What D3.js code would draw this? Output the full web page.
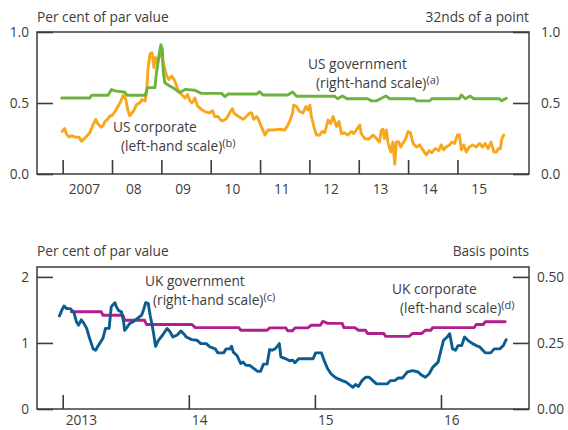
<!DOCTYPE html>
<html>
<head>
<meta charset="utf-8">
<script src="https://cdn.jsdelivr.net/npm/d3@7"></script>
<style>
  html, body { margin: 0; padding: 0; background: #fff; }
  svg { display: block; }
  text { font-family: "Open Sans", "Noto Sans", sans-serif; fill: #3c3c3c; }
</style>
</head>
<body>
<svg id="chart" width="568" height="430"></svg>
<script>
// ---- Top panel: US bid-ask spreads (dates as decimal years) ----
const usCorpYears = [2006.99, 2007.04, 2007.08, 2007.13, 2007.18, 2007.25, 2007.33, 2007.38, 2007.47, 2007.55,
  2007.62, 2007.67, 2007.72, 2007.78, 2007.82, 2007.86, 2007.91, 2007.96, 2008.00, 2008.06,
  2008.11, 2008.16, 2008.23, 2008.28, 2008.32, 2008.36, 2008.43, 2008.50, 2008.56, 2008.61,
  2008.67, 2008.70, 2008.73, 2008.77, 2008.81, 2008.85, 2008.88, 2008.92, 2008.95, 2008.99,
  2009.02, 2009.06, 2009.11, 2009.15, 2009.21, 2009.26, 2009.31, 2009.35, 2009.41, 2009.48,
  2009.53, 2009.58, 2009.62, 2009.68, 2009.73, 2009.81, 2009.88, 2009.97, 2010.04, 2010.08,
  2010.15, 2010.20, 2010.25, 2010.32, 2010.40, 2010.44, 2010.47, 2010.52, 2010.59, 2010.66,
  2010.72, 2010.79, 2010.83, 2010.87, 2010.93, 2010.96, 2011.03, 2011.10, 2011.16, 2011.26,
  2011.40, 2011.50, 2011.55, 2011.60, 2011.66, 2011.68, 2011.74, 2011.80, 2011.87, 2011.93,
  2011.97, 2012.01, 2012.04, 2012.09, 2012.14, 2012.21, 2012.26, 2012.31, 2012.38, 2012.43,
  2012.48, 2012.55, 2012.60, 2012.65, 2012.71, 2012.78, 2012.85, 2012.90, 2012.97, 2013.02,
  2013.05, 2013.12, 2013.20, 2013.29, 2013.36, 2013.42, 2013.46, 2013.49, 2013.52, 2013.56,
  2013.59, 2013.65, 2013.69, 2013.73, 2013.76, 2013.81, 2013.85, 2013.89, 2013.94, 2014.00,
  2014.05, 2014.10, 2014.17, 2014.23, 2014.30, 2014.37, 2014.43, 2014.48, 2014.55, 2014.62,
  2014.67, 2014.72, 2014.77, 2014.84, 2014.89, 2014.94, 2015.00, 2015.04, 2015.08, 2015.13,
  2015.18, 2015.24, 2015.31, 2015.38, 2015.45, 2015.51, 2015.56, 2015.62, 2015.68, 2015.74,
  2015.79, 2015.83, 2015.87, 2015.90, 2015.94];
const usCorpValues = [0.30, 0.32, 0.28, 0.26, 0.27, 0.26, 0.26, 0.23, 0.26, 0.29,
  0.35, 0.385, 0.35, 0.33, 0.34, 0.37, 0.385, 0.41, 0.41, 0.44,
  0.47, 0.50, 0.555, 0.525, 0.45, 0.41, 0.44, 0.49, 0.50, 0.525,
  0.515, 0.57, 0.74, 0.845, 0.855, 0.75, 0.82, 0.785, 0.82, 0.865,
  0.81, 0.75, 0.69, 0.665, 0.69, 0.665, 0.62, 0.585, 0.56, 0.535,
  0.56, 0.515, 0.50, 0.535, 0.48, 0.455, 0.44, 0.43, 0.445, 0.405,
  0.405, 0.38, 0.375, 0.39, 0.44, 0.46, 0.43, 0.415, 0.40, 0.385,
  0.405, 0.43, 0.43, 0.385, 0.405, 0.39, 0.33, 0.275, 0.31, 0.31,
  0.315, 0.31, 0.335, 0.37, 0.43, 0.485, 0.475, 0.44, 0.43, 0.475,
  0.45, 0.485, 0.405, 0.335, 0.275, 0.275, 0.30, 0.29, 0.38, 0.355,
  0.405, 0.335, 0.37, 0.285, 0.29, 0.275, 0.30, 0.285, 0.32, 0.345,
  0.285, 0.25, 0.245, 0.275, 0.25, 0.225, 0.31, 0.315, 0.25, 0.31,
  0.225, 0.155, 0.225, 0.07, 0.225, 0.225, 0.19, 0.215, 0.24, 0.30,
  0.29, 0.215, 0.19, 0.205, 0.17, 0.135, 0.165, 0.15, 0.18, 0.165,
  0.205, 0.17, 0.19, 0.205, 0.225, 0.215, 0.275, 0.275, 0.17, 0.205,
  0.155, 0.19, 0.205, 0.19, 0.215, 0.19, 0.215, 0.18, 0.225, 0.155,
  0.155, 0.18, 0.18, 0.25, 0.275];

const usGovYears = [2006.98, 2007.55, 2007.59, 2007.92, 2007.99, 2008.06, 2008.26, 2008.30, 2008.67, 2008.72,
  2008.87, 2008.90, 2008.95, 2008.99, 2009.02, 2009.04, 2009.07, 2009.17, 2009.27, 2009.37,
  2009.48, 2009.68, 2009.81, 2010.22, 2010.29, 2010.35, 2010.93, 2010.99, 2011.06, 2011.56,
  2011.66, 2011.74, 2012.51, 2012.57, 2012.67, 2012.76, 2013.18, 2013.26, 2013.36, 2013.44,
  2013.55, 2013.63, 2014.13, 2014.17, 2014.44, 2014.48, 2015.04, 2015.08, 2015.16, 2015.26,
  2015.33, 2015.85, 2015.89, 2015.99];
const usGovValues = [0.535, 0.535, 0.555, 0.555, 0.595, 0.585, 0.577, 0.555, 0.555, 0.608,
  0.608, 0.71, 0.83, 0.91, 0.878, 0.713, 0.643, 0.62, 0.60, 0.573,
  0.596, 0.59, 0.568, 0.568, 0.545, 0.563, 0.563, 0.58, 0.556, 0.556,
  0.578, 0.548, 0.548, 0.53, 0.549, 0.53, 0.53, 0.515, 0.515, 0.53,
  0.549, 0.53, 0.53, 0.515, 0.515, 0.53, 0.53, 0.556, 0.53, 0.549,
  0.53, 0.53, 0.515, 0.533];

const topTickYears = [2007, 2008, 2009, 2010, 2011, 2012, 2013, 2014, 2015];
const topTickLabels = ["2007", "08", "09", "10", "11", "12", "13", "14", "15"];
const topLeftTicks = [0, 0.5, 1];
const topRightTicks = [0, 0.5, 1];

// ---- Bottom panel: UK bid-ask spreads ----
const ukCorpYears = [2012.974, 2012.994, 2013.011, 2013.032, 2013.060, 2013.089, 2013.109, 2013.126, 2013.147, 2013.167,
  2013.190, 2013.213, 2013.241, 2013.261, 2013.282, 2013.319, 2013.339, 2013.368, 2013.385, 2013.414,
  2013.425, 2013.443, 2013.466, 2013.483, 2013.491, 2013.511, 2013.529, 2013.557, 2013.592, 2013.626,
  2013.644, 2013.658, 2013.678, 2013.693, 2013.707, 2013.721, 2013.736, 2013.759, 2013.793, 2013.828,
  2013.851, 2013.874, 2013.908, 2013.937, 2013.960, 2013.980, 2014.023, 2014.066, 2014.095, 2014.138,
  2014.167, 2014.210, 2014.230, 2014.276, 2014.296, 2014.325, 2014.339, 2014.353, 2014.382, 2014.411,
  2014.431, 2014.454, 2014.483, 2014.511, 2014.546, 2014.569, 2014.592, 2014.621, 2014.641, 2014.661,
  2014.684, 2014.707, 2014.718, 2014.730, 2014.770, 2014.799, 2014.822, 2014.842, 2014.871, 2014.914,
  2014.986, 2015.006, 2015.052, 2015.072, 2015.101, 2015.129, 2015.167, 2015.216, 2015.244, 2015.273,
  2015.302, 2015.322, 2015.345, 2015.374, 2015.402, 2015.431, 2015.460, 2015.489, 2015.575, 2015.598,
  2015.632, 2015.661, 2015.695, 2015.733, 2015.776, 2015.819, 2015.848, 2015.876, 2015.905, 2015.934,
  2015.977, 2016.000, 2016.020, 2016.049, 2016.069, 2016.092, 2016.115, 2016.135, 2016.164, 2016.187,
  2016.213, 2016.250, 2016.279, 2016.307, 2016.351, 2016.394, 2016.422, 2016.466, 2016.494, 2016.517];
const ukCorpValues = [1.41, 1.50, 1.56, 1.52, 1.52, 1.46, 1.32, 1.27, 1.35, 1.30,
  1.22, 1.07, 0.91, 0.89, 0.96, 1.07, 1.22, 1.22, 1.55, 1.61,
  1.55, 1.49, 1.47, 1.32, 1.19, 1.24, 1.29, 1.32, 1.37, 1.42,
  1.52, 1.61, 1.60, 1.42, 1.29, 1.14, 0.95, 1.04, 1.12, 1.22,
  1.17, 1.09, 1.12, 1.18, 1.14, 1.09, 1.05, 1.04, 0.99, 0.99,
  0.94, 0.91, 0.85, 0.85, 0.91, 0.91, 0.95, 0.86, 0.81, 0.69,
  0.71, 0.66, 0.66, 0.62, 0.57, 0.57, 0.68, 0.68, 0.90, 0.89,
  0.91, 0.96, 0.99, 0.79, 0.76, 0.73, 0.74, 0.70, 0.76, 0.76,
  0.76, 0.85, 0.85, 0.74, 0.61, 0.53, 0.47, 0.43, 0.41, 0.37,
  0.33, 0.37, 0.34, 0.43, 0.48, 0.48, 0.43, 0.38, 0.38, 0.43,
  0.43, 0.47, 0.47, 0.56, 0.58, 0.56, 0.51, 0.48, 0.53, 0.63,
  0.71, 0.89, 1.04, 1.09, 1.14, 0.91, 0.89, 0.96, 0.96, 1.09,
  1.04, 0.99, 0.96, 0.94, 0.85, 0.85, 0.91, 0.91, 0.96, 1.05];

const ukGovYears = [2013.069, 2013.305, 2013.319, 2013.477, 2013.491, 2013.649, 2013.664, 2014.023, 2014.052, 2014.397,
  2014.411, 2014.621, 2014.641, 2014.770, 2014.784, 2014.822, 2014.842, 2014.943, 2014.971, 2015.043,
  2015.063, 2015.101, 2015.216, 2015.230, 2015.316, 2015.345, 2015.402, 2015.417, 2015.546, 2015.560,
  2015.747, 2015.776, 2015.848, 2015.876, 2015.920, 2015.934, 2016.264, 2016.279, 2016.336, 2016.351,
  2016.509];
const ukGovValues = [0.368, 0.368, 0.355, 0.355, 0.336, 0.336, 0.320, 0.320, 0.308, 0.308,
  0.298, 0.298, 0.307, 0.307, 0.296, 0.296, 0.307, 0.307, 0.317, 0.317,
  0.332, 0.324, 0.324, 0.308, 0.308, 0.298, 0.298, 0.286, 0.286, 0.275,
  0.275, 0.286, 0.286, 0.298, 0.298, 0.308, 0.308, 0.320, 0.320, 0.330,
  0.330];

const bottomTickYears = [2013, 2014, 2015, 2016];
const bottomTickLabels = ["2013", "14", "15", "16"];
const bottomLeftTicks = [0, 1, 2];
const bottomRightTicks = [0, 0.25, 0.5];

// ---- Colours and type ----
const orange = "#f8a61c";
const green = "#6cb33e";
const blue = "#0c5c91";
const magenta = "#b01f8e";
const axisColour = "#3c3c3c";
const fontSize = 13.7;

const svg = d3.select("#chart");
const zip = (xs, ys) => xs.map((x, i) => [x, ys[i]]);

function panel(cfg) {
  const { left, right, top, bottom } = cfg.frame;
  const g = svg.append("g");

  const x = d3.scaleLinear().domain(cfg.xDomain).range([left, right]);
  const yL = d3.scaleLinear().domain(cfg.yLeftDomain).range([bottom, top]);
  const yR = d3.scaleLinear().domain(cfg.yRightDomain).range([bottom, top]);

  // year tick marks, pointing into the plot
  g.append("g")
    .attr("transform", `translate(0,${bottom})`)
    .call(d3.axisBottom(x).tickValues(cfg.tickYears).tickSize(-14).tickFormat(""))
    .call(a => a.select(".domain").remove())
    .call(a => a.selectAll("line").attr("stroke", axisColour).attr("stroke-width", 1.6));

  // year labels
  const lab = g.append("g")
    .attr("transform", `translate(0,${bottom})`)
    .call(d3.axisBottom(x)
      .tickValues(cfg.tickYears.map(v => v + cfg.labelShift))
      .tickSize(0).tickPadding(cfg.labelPad)
      .tickFormat((d, i) => cfg.tickLabels[i]));
  lab.select(".domain").remove();
  lab.selectAll("text")
    .attr("font-size", fontSize).attr("fill", axisColour)
    .attr("text-anchor", cfg.labelAnchor)
    .attr("dx", cfg.labelDx);

  // left and right value axes (inward ticks)
  const la = g.append("g").attr("transform", `translate(${left},0)`)
    .call(d3.axisLeft(yL).tickValues(cfg.leftTicks).tickSize(-16).tickPadding(cfg.leftPad)
      .tickFormat(cfg.leftFormat));
  const ra = g.append("g").attr("transform", `translate(${right},0)`)
    .call(d3.axisRight(yR).tickValues(cfg.rightTicks).tickSize(-16).tickPadding(cfg.rightPad)
      .tickFormat(cfg.rightFormat));
  [la, ra].forEach(a => {
    a.select(".domain").remove();
    a.selectAll("line").attr("stroke", axisColour).attr("stroke-width", 1.6);
    a.selectAll("text").attr("font-size", fontSize).attr("fill", axisColour);
  });

  // frame
  g.append("rect")
    .attr("x", left).attr("y", top)
    .attr("width", right - left).attr("height", bottom - top)
    .attr("fill", "none").attr("stroke", axisColour).attr("stroke-width", 1.5);

  // series
  cfg.series.forEach(s => {
    const yS = s.axis === "left" ? yL : yR;
    g.append("path")
      .datum(zip(s.xs, s.ys))
      .attr("fill", "none")
      .attr("stroke", s.colour)
      .attr("stroke-width", 2.9)
      .attr("stroke-linejoin", "round")
      .attr("stroke-linecap", "round")
      .attr("d", d3.line().x(d => x(d[0])).y(d => yS(d[1])));
  });

  // unit captions
  g.append("text").attr("x", left).attr("y", cfg.captionY)
    .attr("font-size", fontSize).text(cfg.leftCaption);
  g.append("text").attr("x", right).attr("y", cfg.captionY)
    .attr("text-anchor", "end").attr("font-size", fontSize).text(cfg.rightCaption);

  // series annotations
  cfg.notes.forEach(n => {
    g.append("text").attr("x", n.x).attr("y", n.y).attr("font-size", fontSize).text(n.line1);
    const t = g.append("text").attr("x", n.x + n.indent).attr("y", n.y + 19).attr("font-size", fontSize);
    t.append("tspan").text(n.line2);
    t.append("tspan").attr("dy", -4.5).attr("font-size", 11).text(n.mark);
  });
}

panel({
  frame: { left: 37, right: 529, top: 32, bottom: 174 },
  xDomain: [2006.48, 2016.45],
  yLeftDomain: [0, 1], yRightDomain: [0, 1],
  tickYears: topTickYears, tickLabels: topTickLabels,
  labelShift: 0.43, labelAnchor: "middle", labelDx: 0, labelPad: 10,
  leftTicks: topLeftTicks, rightTicks: topRightTicks,
  leftFormat: d3.format(".1f"), rightFormat: d3.format(".1f"),
  leftPad: 8, rightPad: 12,
  captionY: 22, leftCaption: "Per cent of par value", rightCaption: "32nds of a point",
  series: [
    { xs: usCorpYears, ys: usCorpValues, axis: "left", colour: orange },
    { xs: usGovYears, ys: usGovValues, axis: "right", colour: green }
  ],
  notes: [
    { x: 308, y: 69, indent: 8, line1: "US government", line2: "(right-hand scale)", mark: "(a)" },
    { x: 113, y: 132, indent: 8, line1: "US corporate", line2: "(left-hand scale)", mark: "(b)" }
  ]
});

panel({
  frame: { left: 37, right: 529, top: 267, bottom: 409 },
  xDomain: [2012.796, 2016.698],
  yLeftDomain: [0, 2.15], yRightDomain: [0, 0.5375],
  tickYears: bottomTickYears, tickLabels: bottomTickLabels,
  labelShift: 0, labelAnchor: "start", labelDx: 2.5, labelPad: 6,
  leftTicks: bottomLeftTicks, rightTicks: bottomRightTicks,
  leftFormat: d3.format("d"), rightFormat: d3.format(".2f"),
  leftPad: 8, rightPad: 8,
  captionY: 256, leftCaption: "Per cent of par value", rightCaption: "Basis points",
  series: [
    { xs: ukGovYears, ys: ukGovValues, axis: "right", colour: magenta },
    { xs: ukCorpYears, ys: ukCorpValues, axis: "left", colour: blue }
  ],
  notes: [
    { x: 145, y: 286, indent: 8, line1: "UK government", line2: "(right-hand scale)", mark: "(c)" },
    { x: 392, y: 294, indent: 8, line1: "UK corporate", line2: "(left-hand scale)", mark: "(d)" }
  ]
});
</script>
</body>
</html>
